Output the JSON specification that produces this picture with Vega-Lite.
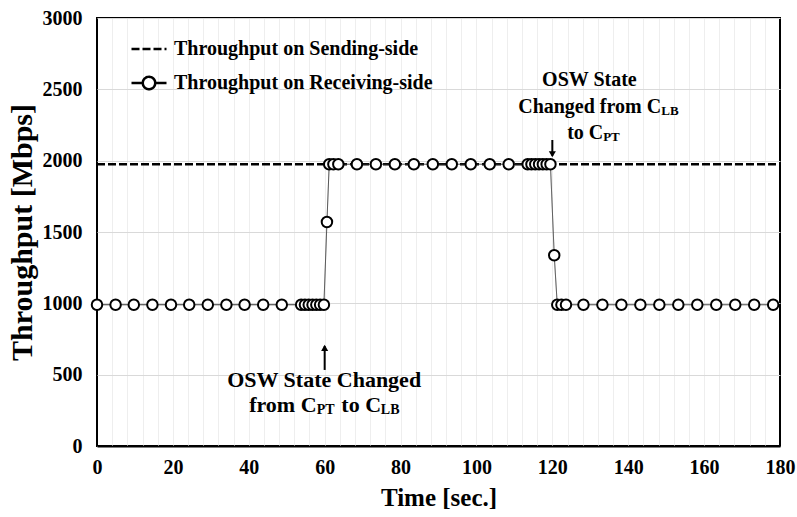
{
  "$schema": "https://vega.github.io/schema/vega-lite/v6.json",
  "width": 683,
  "height": 428,
  "autosize": "none",
  "padding": {"left": 97, "top": 18, "right": 17, "bottom": 71},
  "config": {
    "view": {"stroke": "#000", "strokeWidth": 2},
    "font": "Liberation Serif",
    "axis": {
      "labelFont": "Liberation Serif",
      "labelFontWeight": "bold",
      "labelColor": "#000",
      "titleFont": "Liberation Serif",
      "titleFontWeight": "bold",
      "titleColor": "#000",
      "ticks": false,
      "domain": false
    }
  },
  "resolve": {"axis": {"x": "independent"}},
  "datasets": {
    "tp": [
      {"t": 0, "v": 1975, "series": "Throughput on Sending-side"},
      {"t": 180, "v": 1975, "series": "Throughput on Sending-side"},
      {"t": 0, "v": 990, "series": "Throughput on Receiving-side"},
      {"t": 4.9, "v": 990, "series": "Throughput on Receiving-side"},
      {"t": 9.7, "v": 990, "series": "Throughput on Receiving-side"},
      {"t": 14.6, "v": 990, "series": "Throughput on Receiving-side"},
      {"t": 19.5, "v": 990, "series": "Throughput on Receiving-side"},
      {"t": 24.3, "v": 990, "series": "Throughput on Receiving-side"},
      {"t": 29.2, "v": 990, "series": "Throughput on Receiving-side"},
      {"t": 34.1, "v": 990, "series": "Throughput on Receiving-side"},
      {"t": 38.9, "v": 990, "series": "Throughput on Receiving-side"},
      {"t": 43.8, "v": 990, "series": "Throughput on Receiving-side"},
      {"t": 48.7, "v": 990, "series": "Throughput on Receiving-side"},
      {"t": 53.8, "v": 990, "series": "Throughput on Receiving-side"},
      {"t": 54.8, "v": 990, "series": "Throughput on Receiving-side"},
      {"t": 55.8, "v": 990, "series": "Throughput on Receiving-side"},
      {"t": 56.8, "v": 990, "series": "Throughput on Receiving-side"},
      {"t": 57.8, "v": 990, "series": "Throughput on Receiving-side"},
      {"t": 58.8, "v": 990, "series": "Throughput on Receiving-side"},
      {"t": 59.8, "v": 990, "series": "Throughput on Receiving-side"},
      {"t": 60.6, "v": 1570, "series": "Throughput on Receiving-side"},
      {"t": 61.2, "v": 1975, "series": "Throughput on Receiving-side"},
      {"t": 62.3, "v": 1975, "series": "Throughput on Receiving-side"},
      {"t": 63.6, "v": 1975, "series": "Throughput on Receiving-side"},
      {"t": 68.5, "v": 1975, "series": "Throughput on Receiving-side"},
      {"t": 73.5, "v": 1975, "series": "Throughput on Receiving-side"},
      {"t": 78.5, "v": 1975, "series": "Throughput on Receiving-side"},
      {"t": 83.5, "v": 1975, "series": "Throughput on Receiving-side"},
      {"t": 88.5, "v": 1975, "series": "Throughput on Receiving-side"},
      {"t": 93.5, "v": 1975, "series": "Throughput on Receiving-side"},
      {"t": 98.5, "v": 1975, "series": "Throughput on Receiving-side"},
      {"t": 103.5, "v": 1975, "series": "Throughput on Receiving-side"},
      {"t": 108.5, "v": 1975, "series": "Throughput on Receiving-side"},
      {"t": 113.5, "v": 1975, "series": "Throughput on Receiving-side"},
      {"t": 114.5, "v": 1975, "series": "Throughput on Receiving-side"},
      {"t": 115.5, "v": 1975, "series": "Throughput on Receiving-side"},
      {"t": 116.5, "v": 1975, "series": "Throughput on Receiving-side"},
      {"t": 117.5, "v": 1975, "series": "Throughput on Receiving-side"},
      {"t": 118.5, "v": 1975, "series": "Throughput on Receiving-side"},
      {"t": 119.5, "v": 1975, "series": "Throughput on Receiving-side"},
      {"t": 120.5, "v": 1337, "series": "Throughput on Receiving-side"},
      {"t": 121.3, "v": 990, "series": "Throughput on Receiving-side"},
      {"t": 122.4, "v": 990, "series": "Throughput on Receiving-side"},
      {"t": 123.6, "v": 990, "series": "Throughput on Receiving-side"},
      {"t": 128.2, "v": 990, "series": "Throughput on Receiving-side"},
      {"t": 133.2, "v": 990, "series": "Throughput on Receiving-side"},
      {"t": 138.2, "v": 990, "series": "Throughput on Receiving-side"},
      {"t": 143.2, "v": 990, "series": "Throughput on Receiving-side"},
      {"t": 148.2, "v": 990, "series": "Throughput on Receiving-side"},
      {"t": 153.2, "v": 990, "series": "Throughput on Receiving-side"},
      {"t": 158.2, "v": 990, "series": "Throughput on Receiving-side"},
      {"t": 163.2, "v": 990, "series": "Throughput on Receiving-side"},
      {"t": 168.2, "v": 990, "series": "Throughput on Receiving-side"},
      {"t": 173.2, "v": 990, "series": "Throughput on Receiving-side"},
      {"t": 178.2, "v": 990, "series": "Throughput on Receiving-side"}
    ],
    "notes": [
      {"t": 34.3, "v": 463, "text": "OSW State Changed", "kind": "big"},
      {"t": 40.1, "v": 287, "text": "from C", "kind": "big"},
      {"t": 57.9, "v": 252, "text": "PT", "kind": "bigsub"},
      {"t": 64.4, "v": 287, "text": "to C", "kind": "big"},
      {"t": 74.8, "v": 252, "text": "LB", "kind": "bigsub"},
      {"t": 117.3, "v": 2565, "text": "OSW State", "kind": "main"},
      {"t": 111.0, "v": 2376, "text": "Changed from C", "kind": "main"},
      {"t": 148.7, "v": 2345, "text": "LB", "kind": "sub"},
      {"t": 123.9, "v": 2194, "text": "to C", "kind": "main"},
      {"t": 133.4, "v": 2163, "text": "PT", "kind": "sub"}
    ],
    "arrows": [
      {"t": 60, "v1": 533, "v2": 700, "head": 688, "dir": "up"},
      {"t": 120, "v1": 2145, "v2": 2035, "head": 2045, "dir": "down"}
    ]
  },
  "layer": [
    {
      "data": {"name": "tp"},
      "transform": [{"filter": "datum.series === 'Throughput on Sending-side'"}],
      "mark": {"type": "line", "color": "#000", "strokeWidth": 2.5},
      "encoding": {
        "x": {
          "field": "t", "type": "quantitative",
          "scale": {"domain": [0, 180], "nice": false},
          "axis": {
            "orient": "bottom",
            "values": [4,8,12,16,20,24,28,32,36,40,44,48,52,56,60,64,68,72,76,80,84,88,92,96,100,104,108,112,116,120,124,128,132,136,140,144,148,152,156,160,164,168,172,176],
            "labels": false,
            "title": null,
            "grid": true,
            "gridColor": "#eeeeee",
            "gridWidth": 1,
            "encode": {
              "grid": {"update": {"y": {"value": -426}, "y2": {"value": -2}}}
            }
          }
        },
        "y": {
          "field": "v", "type": "quantitative",
          "scale": {"domain": [0, 3000], "nice": false},
          "axis": {
            "values": [0, 500, 1000, 1500, 2000, 2500, 3000],
            "format": "d",
            "labelOverlap": false,
            "labelFlush": false,
            "title": "Throughput [Mbps]",
            "labelFontSize": 20,
            "labelPadding": 15,
            "titleFontSize": 30,
            "titlePadding": 5,
            "grid": true,
            "gridColor": "#d9d9d9",
            "gridWidth": 1,
            "encode": {
              "grid": {"update": {"strokeOpacity": {"signal": "datum.value === 0 || datum.value === 3000 ? 0 : 1"}}}
            }
          }
        },
        "strokeDash": {
          "field": "series", "type": "nominal",
          "scale": {"domain": ["Throughput on Sending-side", "Throughput on Receiving-side"], "range": [[8, 3], [1, 0]]},
          "legend": {
            "title": null,
            "orient": "none",
            "legendX": 33,
            "legendY": 12,
            "symbolSize": 1225,
            "symbolStrokeWidth": 2.5,
            "symbolStrokeColor": "#000",
            "labelFont": "Liberation Serif",
            "labelFontWeight": "bold",
            "labelFontSize": 20,
            "labelColor": "#000",
            "labelLimit": 0,
            "labelOffset": 6,
            "rowPadding": 5,
            "encode": {
              "symbols": {
                "update": {
                  "shape": {"signal": "datum.value === 'Throughput on Receiving-side' ? 'M-1,0L-0.36,0M0.36,0L1,0M-0.36,0L-0.333,-0.138L-0.255,-0.255L-0.138,-0.333L0,-0.36L0.138,-0.333L0.255,-0.255L0.333,-0.138L0.36,0L0.333,0.138L0.255,0.255L0.138,0.333L0,0.36L-0.138,0.333L-0.255,0.255L-0.333,0.138Z' : 'M-1,0L1,0'"},
                  "fill": {"value": "#fff"},
                  "stroke": {"value": "#000"}
                }
              }
            }
          }
        }
      }
    },
    {
      "data": {"name": "tp"},
      "transform": [{"filter": "datum.series === 'Throughput on Receiving-side'"}],
      "mark": {"type": "line", "color": "#333", "strokeWidth": 1},
      "encoding": {
        "x": {
          "field": "t", "type": "quantitative",
          "axis": {
            "orient": "bottom",
            "values": [0, 20, 40, 60, 80, 100, 120, 140, 160, 180],
            "labelOverlap": false,
            "labelFlush": false,
            "title": "Time [sec.]",
            "labelFontSize": 20,
            "labelPadding": 11,
            "titleFontSize": 25,
            "titlePadding": 8,
            "grid": false,
            "domain": true,
            "domainColor": "#000",
            "domainWidth": 2,
            "zindex": 1
          }
        },
        "y": {"field": "v", "type": "quantitative"},
        "strokeDash": {"field": "series", "type": "nominal"}
      }
    },
    {
      "data": {"name": "tp"},
      "transform": [{"filter": "datum.series === 'Throughput on Receiving-side'"}],
      "mark": {"type": "point", "shape": "circle", "filled": true, "fill": "#fff", "stroke": "#000", "strokeWidth": 2, "size": 110, "opacity": 1},
      "encoding": {
        "x": {"field": "t", "type": "quantitative", "axis": null},
        "y": {"field": "v", "type": "quantitative"}
      }
    },
    {
      "data": {"name": "arrows"},
      "mark": {"type": "rule", "color": "#000", "strokeWidth": 2},
      "encoding": {
        "x": {"field": "t", "type": "quantitative", "axis": null},
        "y": {"field": "v1", "type": "quantitative"},
        "y2": {"field": "v2"}
      }
    },
    {
      "data": {"name": "arrows"},
      "mark": {"type": "point", "filled": true, "color": "#000", "size": 50, "opacity": 1},
      "encoding": {
        "x": {"field": "t", "type": "quantitative", "axis": null},
        "y": {"field": "head", "type": "quantitative"},
        "shape": {"field": "dir", "type": "nominal", "scale": {"domain": ["up", "down"], "range": ["triangle-up", "triangle-down"]}, "legend": null}
      }
    },
    {
      "data": {"name": "notes"},
      "transform": [{"filter": "datum.kind === 'big'"}],
      "mark": {"type": "text", "align": "left", "baseline": "middle", "font": "Liberation Serif", "fontWeight": "bold", "color": "#000", "fontSize": 22},
      "encoding": {
        "x": {"field": "t", "type": "quantitative", "axis": null},
        "y": {"field": "v", "type": "quantitative"},
        "text": {"field": "text"}
      }
    },
    {
      "data": {"name": "notes"},
      "transform": [{"filter": "datum.kind === 'bigsub'"}],
      "mark": {"type": "text", "align": "left", "baseline": "middle", "font": "Liberation Serif", "fontWeight": "bold", "color": "#000", "fontSize": 14},
      "encoding": {
        "x": {"field": "t", "type": "quantitative", "axis": null},
        "y": {"field": "v", "type": "quantitative"},
        "text": {"field": "text"}
      }
    },
    {
      "data": {"name": "notes"},
      "transform": [{"filter": "datum.kind === 'main'"}],
      "mark": {"type": "text", "align": "left", "baseline": "middle", "font": "Liberation Serif", "fontWeight": "bold", "color": "#000", "fontSize": 20},
      "encoding": {
        "x": {"field": "t", "type": "quantitative", "axis": null},
        "y": {"field": "v", "type": "quantitative"},
        "text": {"field": "text"}
      }
    },
    {
      "data": {"name": "notes"},
      "transform": [{"filter": "datum.kind === 'sub'"}],
      "mark": {"type": "text", "align": "left", "baseline": "middle", "font": "Liberation Serif", "fontWeight": "bold", "color": "#000", "fontSize": 13},
      "encoding": {
        "x": {"field": "t", "type": "quantitative", "axis": null},
        "y": {"field": "v", "type": "quantitative"},
        "text": {"field": "text"}
      }
    }
  ]
}
